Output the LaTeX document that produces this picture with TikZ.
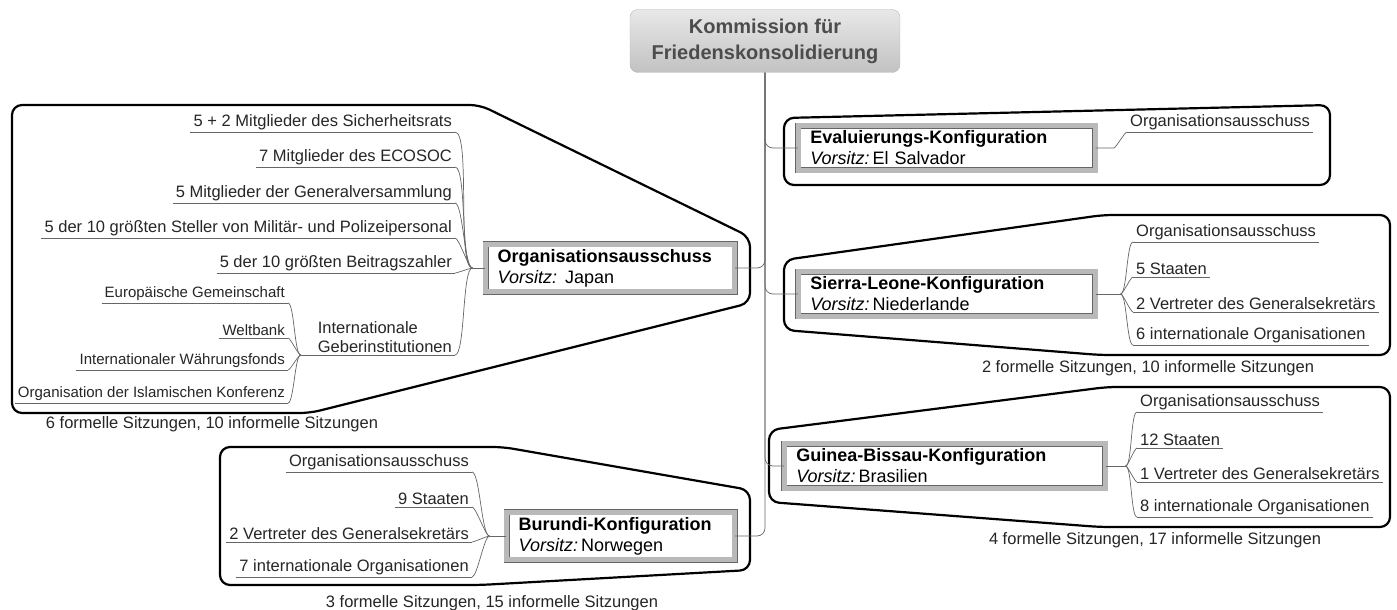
\documentclass[tikz,border=0pt]{standalone}
\usepackage{fontspec}
\setmainfont{Liberation Sans}
\usetikzlibrary{positioning}

\begin{document}
\begin{tikzpicture}[x=1pt,y=-1pt]
	\tikzstyle{kopf}=[draw=gray!55, rounded corners=8pt, top color=gray!18, bottom color=gray!48, minimum width=270pt, minimum height=63pt, align=center, text=black!70, font=\bfseries\fontsize{20}{26}\selectfont]
	\tikzstyle{konf}=[draw=black!60, line width=.6pt, double=gray!55, double distance=5pt, fill=white, align=left, inner xsep=12pt, inner ysep=5pt, font=\fontsize{18}{21}\selectfont]
	\tikzstyle{blatt}=[inner xsep=3pt, inner ysep=2pt, text=black!85, font=\fontsize{16.5}{19}\selectfont]
	\tikzstyle{blattklein}=[blatt, font=\fontsize{15}{17}\selectfont]
	\tikzstyle{fuss}=[inner sep=0pt, text=black!85, font=\fontsize{16.5}{19}\selectfont]
	\tikzstyle{ast}=[draw=black!60, line width=.7pt]
	\tikzstyle{rahmen}=[draw=black, line width=2.2pt, rounded corners=10pt]

	\useasboundingbox[fill=white] (0,0) rectangle (1397,610);

	% Rahmen der Gruppen
	\draw[rahmen] (12,105) -- (480,105) -- (750,237) -- (750,303) -- (310,413) -- (12,413) -- cycle;
	\draw[rahmen] (784,118) -- (1330,105) -- (1330,185) -- (784,185) -- cycle;
	\draw[rahmen] (784,260) -- (1103,215) -- (1390,215) -- (1390,355) -- (1100,355) -- (784,330) -- cycle;
	\draw[rahmen] (769,430) -- (1107,387) -- (1390,387) -- (1390,527) -- (1100,527) -- (769,502) -- cycle;
	\draw[rahmen] (220,447) -- (503,447) -- (750,490) -- (750,570) -- (480,585) -- (220,585) -- cycle;

	\node[kopf] (kom) at (765,41) {Kommission für\\Friedenskonsolidierung};

	\node[konf, anchor=east, text width=225pt] (org) at (735,268) {\textbf{Organisationsausschuss}\\\textit{Vorsitz:}\hspace{8pt}Japan};
	\node[konf, anchor=west, text width=273pt] (eval) at (798,148) {\textbf{Evaluierungs-Konfiguration}\\\textit{Vorsitz:}\hspace{3pt}El Salvador};
	\node[konf, anchor=west, text width=273pt] (sier) at (798,294) {\textbf{Sierra-Leone-Konfiguration}\\\textit{Vorsitz:}\hspace{3pt}Niederlande};
	\node[konf, anchor=west, text width=297pt] (guin) at (784,466) {\textbf{Guinea-Bissau-Konfiguration}\\\textit{Vorsitz:}\hspace{3pt}Brasilien};
	\node[konf, anchor=east, text width=204pt] (buru) at (735,536) {\textbf{Burundi-Konfiguration}\\\textit{Vorsitz:}\hspace{3pt}Norwegen};

	\coordinate[left=13pt of org] (orgj);
	\coordinate[right=18pt of eval] (evalj);
	\coordinate[right=25pt of sier] (sierj);
	\coordinate[right=20pt of guin] (guinj);
	\coordinate[left=17pt of buru] (buruj);

	% Organisationsausschuss
	\node[blatt, anchor=south east] (sich) at (455,132) {5 + 2 Mitglieder des Sicherheitsrats};
	\node[blatt, anchor=south east] (eco) at (455,167) {7 Mitglieder des ECOSOC};
	\node[blatt, anchor=south east] (gen) at (455,203) {5 Mitglieder der Generalversammlung};
	\node[blatt, anchor=south east] (mil) at (455,238) {5 der 10 größten Steller von Militär- und Polizeipersonal};
	\node[blatt, anchor=south east] (bei) at (455,273) {5 der 10 größten Beitragszahler};
	\node[blatt, anchor=south east, align=left] (geber) at (455,355) {Internationale\\Geberinstitutionen};
	\coordinate[left=14pt of geber.south west] (geberj);
	\node[blattklein, anchor=south east] (eu) at (288,303) {Europäische Gemeinschaft};
	\node[blattklein, anchor=south east] (wb) at (288,338) {Weltbank};
	\node[blattklein, anchor=south east] (iwf) at (288,370) {Internationaler Währungsfonds};
	\node[blattklein, anchor=south east] (oic) at (288,403) {Organisation der Islamischen Konferenz};

	% Evaluierung
	\node[blatt, anchor=south west] (e1) at (1127,132) {Organisationsausschuss};

	% Sierra Leone
	\node[blatt, anchor=south west] (s1) at (1133,242) {Organisationsausschuss};
	\node[blatt, anchor=south west] (s2) at (1133,277) {5 Staaten};
	\node[blatt, anchor=south west] (s3) at (1133,312) {2 Vertreter des Generalsekretärs};
	\node[blatt, anchor=south west] (s4) at (1133,345) {6 internationale Organisationen};

	% Guinea-Bissau
	\node[blatt, anchor=south west] (g1) at (1137,412) {Organisationsausschuss};
	\node[blatt, anchor=south west] (g2) at (1137,448) {12 Staaten};
	\node[blatt, anchor=south west] (g3) at (1137,482) {1 Vertreter des Generalsekretärs};
	\node[blatt, anchor=south west] (g4) at (1137,517) {8 internationale Organisationen};

	% Burundi
	\node[blatt, anchor=south east] (b1) at (472,472) {Organisationsausschuss};
	\node[blatt, anchor=south east] (b2) at (472,507) {9 Staaten};
	\node[blatt, anchor=south east] (b3) at (472,542) {2 Vertreter des Generalsekretärs};
	\node[blatt, anchor=south east] (b4) at (472,577) {7 internationale Organisationen};

	% Sitzungen
	\node[fuss] (orgfuss) at (212,424) {6 formelle Sitzungen, 10 informelle Sitzungen};
	\node[fuss] (sierfuss) at (1148,368) {2 formelle Sitzungen, 10 informelle Sitzungen};
	\node[fuss] (guinfuss) at (1155,540) {4 formelle Sitzungen, 17 informelle Sitzungen};
	\node[fuss] (burufuss) at (492,603) {3 formelle Sitzungen, 15 informelle Sitzungen};

	% Stamm
	\foreach \k in {eval,sier,guin} \draw[ast, rounded corners=8pt] (kom.south) |- (\k.west);
	\foreach \k in {org,buru} \draw[ast, rounded corners=8pt] (kom.south) |- (\k.east);

	% Unterstreichungen und Äste
	\foreach \n in {sich,eco,gen,mil,bei,eu,wb,iwf,oic,e1,s1,s2,s3,s4,g1,g2,g3,g4,b1,b2,b3,b4}
		\draw[ast] (\n.south west) -- (\n.south east);
	\draw[ast] (geberj) -- (geber.south east);

	\draw[ast] (org.west) -- (orgj);
	\foreach \n in {sich,eco,gen,mil,bei,geber}
		\draw[ast] (orgj) to[out=180,in=0,looseness=.3] (\n.south east);
	\foreach \n in {eu,wb,iwf,oic}
		\draw[ast] (geberj) to[out=180,in=0,looseness=.3] (\n.south east);

	\draw[ast] (buru.west) -- (buruj);
	\foreach \n in {b1,b2,b3,b4}
		\draw[ast] (buruj) to[out=180,in=0,looseness=.3] (\n.south east);

	\draw[ast] (eval.east) -- (evalj) to[out=0,in=180,looseness=.3] (e1.south west);

	\draw[ast] (sier.east) -- (sierj);
	\foreach \n in {s1,s2,s3,s4}
		\draw[ast] (sierj) to[out=0,in=180,looseness=.3] (\n.south west);

	\draw[ast] (guin.east) -- (guinj);
	\foreach \n in {g1,g2,g3,g4}
		\draw[ast] (guinj) to[out=0,in=180,looseness=.3] (\n.south west);
\end{tikzpicture}
\end{document}
